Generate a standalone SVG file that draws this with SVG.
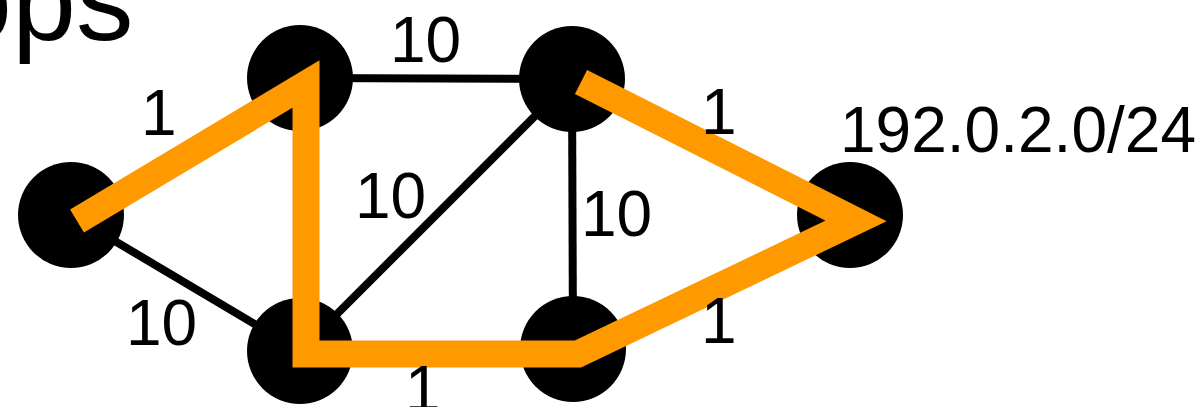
<svg xmlns="http://www.w3.org/2000/svg" width="1204" height="407" viewBox="0 0 1204 407">
<style>
.edge{stroke:#000;stroke-width:8;fill:none}
.node{fill:#000}
.path{stroke:#FF9900;stroke-width:27;fill:none;stroke-linejoin:miter;stroke-linecap:butt;stroke-miterlimit:10}
.lbl{font-family:"Liberation Sans",Arial,sans-serif;font-size:64px;fill:#000}
.title{font-family:"Liberation Sans",Arial,sans-serif;font-size:115px;fill:#000}
</style>
<rect width="1204" height="407" fill="#fff"/>
<text class="title" x="-52" y="40">ops</text>
<g id="connectors">
<line class="edge" x1="71" y1="215" x2="300" y2="351"/>
<line class="edge" x1="300" y1="78" x2="572" y2="79"/>
<line class="edge" x1="300" y1="351" x2="572" y2="79"/>
<line class="edge" x1="572" y1="79" x2="573" y2="349"/>
</g>
<g id="nodeA"><circle class="node" cx="71" cy="215" r="53"/></g>
<g id="nodeB"><circle class="node" cx="300" cy="78" r="53"/></g>
<g id="nodeC"><circle class="node" cx="300" cy="351" r="53"/></g>
<g id="nodeD"><circle class="node" cx="572" cy="79" r="53"/></g>
<g id="nodeE"><circle class="node" cx="573" cy="349" r="53"/></g>
<g id="nodeF"><circle class="node" cx="850" cy="215" r="53"/><text class="lbl" x="840" y="152" textLength="356" lengthAdjust="spacingAndGlyphs">192.0.2.0/24</text></g>
<g id="path">
<polyline class="path" points="77,221 306,84 306,354 578,354 856,221 581,82"/>
</g>
<g id="labels">
<text class="lbl" x="390" y="62">10</text>
<text class="lbl" x="141" y="135">1</text>
<text class="lbl" x="701" y="134">1</text>
<text class="lbl" x="355" y="218">10</text>
<text class="lbl" x="581" y="236">10</text>
<text class="lbl" x="126" y="345">10</text>
<text class="lbl" x="405" y="411">1</text>
<text class="lbl" x="701" y="343">1</text>
</g>
</svg>
